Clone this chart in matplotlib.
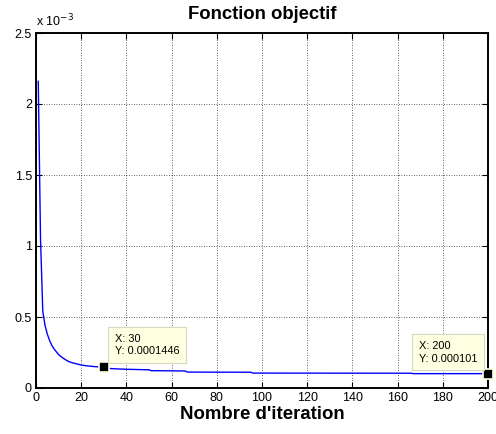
import matplotlib
matplotlib.use("Agg")
import matplotlib.pyplot as plt
from matplotlib.ticker import FuncFormatter

plt.rcParams['font.family'] = ['Liberation Sans', 'DejaVu Sans']

# Data (objective value vs iteration)
iterations = [1, 2, 3, 4, 5, 6, 7, 8, 9, 10, 11, 12, 13, 14, 15, 16, 17, 18, 19, 20,
              22, 25, 28, 30, 32, 35, 40, 50, 51, 66, 67, 95, 96, 166, 167, 200]
objective = [2.16e-3, 1.05e-3, 0.54e-3, 0.44e-3, 0.38e-3, 0.335e-3, 0.30e-3, 0.275e-3,
             0.255e-3, 0.235e-3, 0.222e-3, 0.21e-3, 0.20e-3, 0.19e-3, 0.183e-3, 0.178e-3,
             0.174e-3, 0.17e-3, 0.166e-3, 0.162e-3, 0.157e-3, 0.152e-3, 0.148e-3,
             0.1446e-3, 0.138e-3, 0.135e-3, 0.132e-3, 0.128e-3, 0.122e-3, 0.12e-3,
             0.112e-3, 0.111e-3, 0.105e-3, 0.104e-3, 0.101e-3, 0.101e-3]
tip_x = [30, 200]
tip_y = [0.0001446, 0.000101]
tip_labels = ["X: 30\nY: 0.0001446", "X: 200\nY: 0.000101"]

xticks = [0, 20, 40, 60, 80, 100, 120, 140, 160, 180, 200]
yticks = [0, 0.5e-3, 1e-3, 1.5e-3, 2e-3, 2.5e-3]

fig = plt.figure(figsize=(4.96, 4.34), dpi=100)
ax = fig.add_axes([36/496, 46/434, 452/496, 355/434])

ax.plot(iterations, objective, color=(0, 0, 1), linewidth=1.0)

ax.set_xlim(0, 200)
ax.set_ylim(0, 2.5e-3)
ax.set_xticks(xticks)
ax.set_yticks(yticks)
ax.yaxis.set_major_formatter(FuncFormatter(lambda v, p: f"{v*1e3:g}"))
ax.tick_params(direction='in', length=4, width=0.8, top=True, right=True,
               labelsize=9, pad=3, colors='black')
ax.grid(True, linestyle=(0, (1, 2)), color='#303030', linewidth=0.6)
for s in ax.spines.values():
    s.set_linewidth(1.4)
    s.set_color('black')

ax.set_title("Fonction objectif", fontsize=13.3, fontweight='bold', pad=10)
ax.set_xlabel("Nombre d'iteration", fontsize=13.4, fontweight='bold', labelpad=1)
ax.text(0.0, 1.01, r"x 10$^{-3}$", transform=ax.transAxes, fontsize=9,
        ha='left', va='bottom')

# Data tips
offsets = [(11, 11), (-11, 10)]
aligns = ['left', 'right']
for x, y, lab, off, ha in zip(tip_x, tip_y, tip_labels, offsets, aligns):
    ax.plot([x], [y], marker='s', markersize=7, color='black',
            markeredgecolor='#ffffe1', markeredgewidth=1.2, clip_on=False, zorder=5)
    ax.annotate(lab, xy=(x, y), xytext=off, textcoords='offset pixels',
                ha=ha, va='bottom', multialignment='left', fontsize=7.9,
                linespacing=1.35,
                bbox=dict(boxstyle='square,pad=0.6', facecolor='#ffffe1',
                          edgecolor='#d8d8c0', linewidth=0.8), zorder=6)

fig.savefig("out.png", dpi=100)
